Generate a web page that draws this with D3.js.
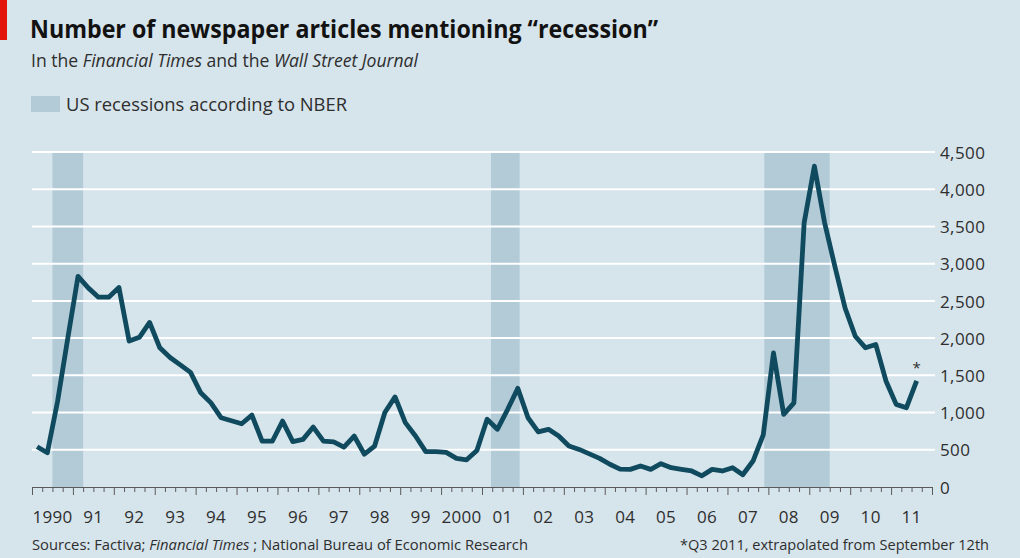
<!DOCTYPE html>
<html><head><meta charset="utf-8">
<script src="https://cdn.jsdelivr.net/npm/d3@7"></script>
<style>
html,body{margin:0;padding:0;background:#d6e4eb;}
svg{display:block;}
text{font-family:"Open Sans","Noto Sans",sans-serif;}
</style></head><body>
<svg id="chart" width="1020" height="558"></svg>
<script>
// ---- data ----
const firstYear = 1990; // first quarter = 1990 Q1, quarterly series
const articles = [
  540, 460, 1150, 2000,      // 1990
  2830, 2675, 2550, 2550,    // 1991
  2680, 1960, 2010, 2210,    // 1992
  1870, 1740, 1640, 1540,    // 1993
  1265, 1130, 930, 890,      // 1994
  850, 965, 615, 615,        // 1995
  885, 610, 640, 805,        // 1996
  615, 605, 535, 685,        // 1997
  440, 550, 1000, 1210,      // 1998
  865, 685, 475, 475,        // 1999
  465, 385, 365, 490,        // 2000
  910, 775, 1040, 1325,      // 2001
  930, 740, 775, 685,        // 2002
  550, 505, 445, 385,        // 2003
  305, 240, 237, 282,        // 2004
  237, 313, 259, 237,        // 2005
  215, 150, 237, 215,        // 2006
  259, 165, 349, 700,        // 2007
  1800, 975, 1130, 3550,     // 2008
  4310, 3550, 2965, 2405,    // 2009
  2025, 1870, 1915, 1425,    // 2010
  1110, 1065, 1425           // 2011 (Q3 extrapolated)
];
const yearLabels = ["1990","91","92","93","94","95","96","97","98","99","2000","01","02","03","04","05","06","07","08","09","10","11"];
const yTicks = [0, 500, 1000, 1500, 2000, 2500, 3000, 3500, 4000, 4500];
const recessions = [[1990.5, 1991.25], [2001.22, 2001.92], [2007.9, 2009.5]];

// ---- layout ----
const W = 1020, H = 558;
const svg = d3.select("#chart");
const x = d3.scaleLinear().domain([1990, 2012]).range([32, 932]);
const y = d3.scaleLinear().domain([0, 4500]).range([487, 152]);
const gridRight = 935;

const colors = {bg:"#d6e4eb", shade:"#b2cbd7", grid:"#ffffff", line:"#0f4a5f", text:"#2e2e2e", title:"#121212", red:"#e3120b", axis:"#5a5a5a"};

svg.append("rect").attr("width", W).attr("height", H).attr("fill", colors.bg);
svg.append("rect").attr("x",0).attr("y",0).attr("width",7).attr("height",40).attr("fill",colors.red);

function fit(sel, target){
  const n = sel.node();
  const w = n.getComputedTextLength();
  if (target && Math.abs(w-target) > 1) sel.attr("textLength", target).attr("lengthAdjust","spacingAndGlyphs");
}

// Title
const title = svg.append("text").attr("x",30).attr("y",38)
  .attr("font-size",25).attr("font-weight",700).attr("fill",colors.title)
  .text("Number of newspaper articles mentioning \u201crecession\u201d");
fit(title, 628);

// Subtitle
const sub = svg.append("text").attr("x",31).attr("y",67).attr("font-size",17.5).attr("fill",colors.text);
sub.append("tspan").text("In the ");
sub.append("tspan").attr("font-style","italic").text("Financial Times");
sub.append("tspan").text(" and the ");
sub.append("tspan").attr("font-style","italic").text("Wall Street Journal");
fit(sub, 387);

// Legend
svg.append("rect").attr("x",31).attr("y",96).attr("width",29).attr("height",16).attr("fill",colors.shade);
const leg = svg.append("text").attr("x",66).attr("y",111).attr("font-size",17.5).attr("fill",colors.text)
  .text("US recessions according to NBER");
fit(leg, 281);

// Recession shading
svg.append("g").selectAll("rect").data(recessions).join("rect")
  .attr("x", d => x(d[0])).attr("width", d => x(d[1]) - x(d[0]))
  .attr("y", y(4500)).attr("height", y(0) - y(4500))
  .attr("fill", colors.shade);

// Gridlines
svg.append("g").selectAll("line").data(yTicks.filter(v => v > 0)).join("line")
  .attr("x1", 32).attr("x2", gridRight)
  .attr("y1", d => y(d)).attr("y2", d => y(d))
  .attr("stroke", colors.grid).attr("stroke-width", 2);

// Y axis labels (right)
const yAxis = d3.axisRight(y).tickValues(yTicks).tickSize(0).tickPadding(5).tickFormat(d3.format(","));
const gy = svg.append("g").attr("transform", `translate(${gridRight},0)`).call(yAxis);
gy.select(".domain").remove();
gy.selectAll("text").attr("font-size",17).attr("fill",colors.text)
  .attr("font-family","'Open Sans',sans-serif").attr("dy","0.36em")
  .attr("letter-spacing", 0.4);

// X axis with quarterly ticks
const quarterTicks = d3.range(1990, 2012.001, 0.25);
const xAxis = d3.axisBottom(x).tickValues(quarterTicks).tickSizeOuter(0).tickFormat("");
const gx = svg.append("g").attr("transform", `translate(0,${y(0)})`).call(xAxis);
gx.select(".domain").attr("stroke", colors.axis).attr("stroke-width",1.2);
gx.selectAll(".tick line").attr("stroke", colors.axis).attr("stroke-width",1)
  .attr("y2", d => Math.abs(d - Math.round(d)) < 1e-6 ? 8 : 5);

// Year labels
svg.append("g").selectAll("text").data(yearLabels).join("text")
  .attr("x", (d,i) => x(firstYear + i + 0.5)).attr("y", 523)
  .attr("text-anchor","middle").attr("font-size",17).attr("fill",colors.text)
  .attr("letter-spacing", 0.3)
  .text(d => d);

// Line
const pts = articles.map((v,i) => ({t: firstYear + (i + 0.5)/4, v}));
svg.append("path").datum(pts)
  .attr("fill","none").attr("stroke",colors.line).attr("stroke-width",4.8)
  .attr("stroke-linejoin","round").attr("stroke-linecap","butt")
  .attr("d", d3.line().x(d => x(d.t)).y(d => y(d.v)));

// Asterisk
const last = pts[pts.length-1];
svg.append("text").attr("x", x(last.t)).attr("y", y(last.v) - 8)
  .attr("text-anchor","middle").attr("font-size",15).attr("fill",colors.text).text("*");

// Footer
const src = svg.append("text").attr("x",32).attr("y",550).attr("font-size",15).attr("fill",colors.text);
src.append("tspan").text("Sources: Factiva; ");
src.append("tspan").attr("font-style","italic").text("Financial Times");
src.append("tspan").text(" ; National Bureau of Economic Research");
fit(src, 496);

const note = svg.append("text").attr("x",989).attr("y",550).attr("text-anchor","end")
  .attr("font-size",15).attr("fill",colors.text)
  .text("*Q3 2011, extrapolated from September 12th");
fit(note, 309);
</script>
</body></html>
